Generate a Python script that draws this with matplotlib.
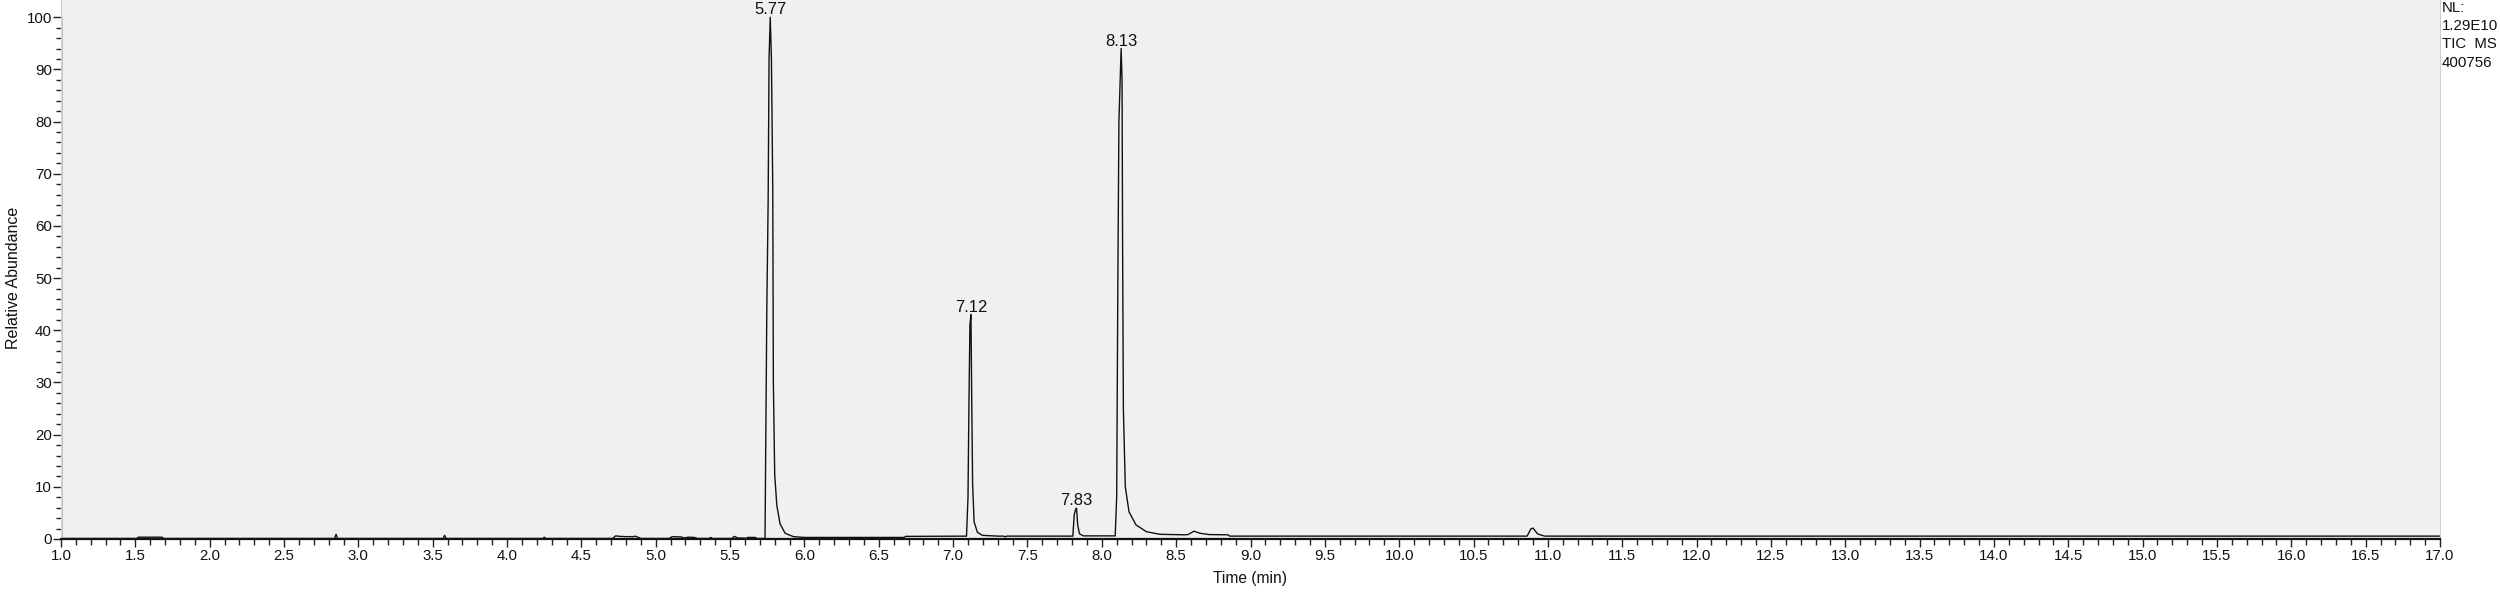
import matplotlib.pyplot as plt
from matplotlib.ticker import MultipleLocator

# TIC trace: retention time (min) / relative abundance (%)
rt = [1.00, 1.51, 1.52, 1.68, 1.69, 2.84, 2.85, 2.86, 3.57, 3.58, 3.59,
      4.24, 4.25, 4.26, 4.71, 4.73, 4.76, 4.80, 4.85, 4.86, 4.88, 4.90,
      5.09, 5.11, 5.17, 5.19, 5.22, 5.26, 5.28, 5.36, 5.37, 5.38,
      5.51, 5.53, 5.55, 5.61, 5.62, 5.67, 5.68,
      5.735, 5.740, 5.747, 5.756, 5.762, 5.770, 5.778, 5.787, 5.791, 5.800,
      5.814, 5.836, 5.870, 5.926, 6.00, 6.67, 6.68,
      7.090, 7.100, 7.106, 7.113, 7.120, 7.125, 7.131, 7.141, 7.163, 7.196,
      7.30, 7.34, 7.35, 7.36,
      7.805, 7.815, 7.826, 7.830, 7.838, 7.850, 7.875,
      8.090, 8.100, 8.108, 8.115, 8.130, 8.136, 8.140, 8.145, 8.158, 8.183,
      8.230, 8.300, 8.390, 8.56, 8.58, 8.62, 8.66, 8.72, 8.85, 8.86,
      10.86, 10.885, 10.90, 10.93, 10.96, 10.98, 17.0]
abundance = [0.1, 0.1, 0.35, 0.35, 0.1, 0.1, 0.9, 0.1, 0.1, 0.7, 0.1,
             0.1, 0.35, 0.1, 0.1, 0.6, 0.5, 0.45, 0.45, 0.55, 0.35, 0.1,
             0.1, 0.45, 0.4, 0.2, 0.35, 0.3, 0.1, 0.1, 0.3, 0.1,
             0.1, 0.5, 0.2, 0.15, 0.3, 0.3, 0.1,
             0.1, 19, 44, 65, 92, 100, 92, 67, 30, 12.4,
             6.5, 2.9, 1.1, 0.45, 0.3, 0.3, 0.5,
             0.55, 8, 25, 41, 43, 27, 10.6, 3.3, 1.3, 0.7,
             0.55, 0.55, 0.4, 0.55,
             0.55, 4.8, 5.8, 5.9, 2.6, 1.0, 0.6,
             0.6, 8, 50, 80, 94, 88, 55, 25, 10, 5.2,
             2.7, 1.4, 0.9, 0.8, 0.85, 1.5, 1.1, 0.85, 0.8, 0.55,
             0.55, 1.9, 2.1, 1.0, 0.7, 0.55, 0.55]

peak_rt = [5.77, 7.12, 7.83, 8.13]
peak_height = [100, 43, 5.9, 94]
peak_labels = ['5.77', '7.12', '7.83', '8.13']

x_ticks = [t / 10 for t in range(10, 171, 5)]
x_ticklabels = ['%.1f' % t for t in x_ticks]

header_lines = ['NL:', '1.29E10', 'TIC  MS', '400756']

plt.rcParams['font.family'] = ['Liberation Sans', 'DejaVu Sans']
txt_color = '#111111'

W, H = 2500, 594
fig = plt.figure(figsize=(W / 100, H / 100), dpi=100)
ax = fig.add_axes([61 / W, 55 / H, (2440 - 61) / W, 539 / H])
ax.set_facecolor('#f0f0f0')

ax.plot(rt, abundance, color='#111111', lw=1.0)

for x, y, lab in zip(peak_rt, peak_height, peak_labels):
    ax.annotate(lab, (x, y), xytext=(0, 2), textcoords='offset points',
                ha='center', va='baseline', fontsize=12, color=txt_color)

ax.set_xlim(1.0, 17.0)
ax.set_ylim(0, 103.3)

ax.set_xticks(x_ticks)
ax.set_xticklabels(x_ticklabels)
ax.xaxis.set_minor_locator(MultipleLocator(0.1))
ax.set_yticks(range(0, 101, 10))
ax.set_yticks(range(0, 101, 2), minor=True)

ax.tick_params(axis='both', which='both', direction='out', colors='#222222',
               labelcolor=txt_color, labelsize=10.8, width=1)
ax.tick_params(axis='x', which='major', length=5.5, pad=2)
ax.tick_params(axis='x', which='minor', length=4)
ax.tick_params(axis='y', which='major', length=5.5, pad=1)
ax.tick_params(axis='y', which='minor', length=3.6)

ax.spines['top'].set_visible(False)
ax.spines['right'].set_color('#cfcfcf')
ax.spines['left'].set_color('#d0d0d0')
ax.spines['bottom'].set_color('#111111')
ax.spines['bottom'].set_linewidth(1.6)
ax.axvline(1.0, ymin=0, ymax=100 / 103.3, color='#222222', lw=1.0)

fig.text(1250 / W, 1 - 578 / H, 'Time (min)', ha='center', va='center',
         fontsize=11.2, color=txt_color)
fig.text(14 / W, 1 - 278 / H, 'Relative Abundance', ha='center', va='center',
         rotation=90, fontsize=11.5, color=txt_color)

fig.text(2442 / W, 1 - 1 / H, '\n'.join(header_lines), ha='left', va='top',
         fontsize=10.8, color=txt_color, linespacing=1.38)

fig.savefig('out.png', dpi=100, facecolor='white')
